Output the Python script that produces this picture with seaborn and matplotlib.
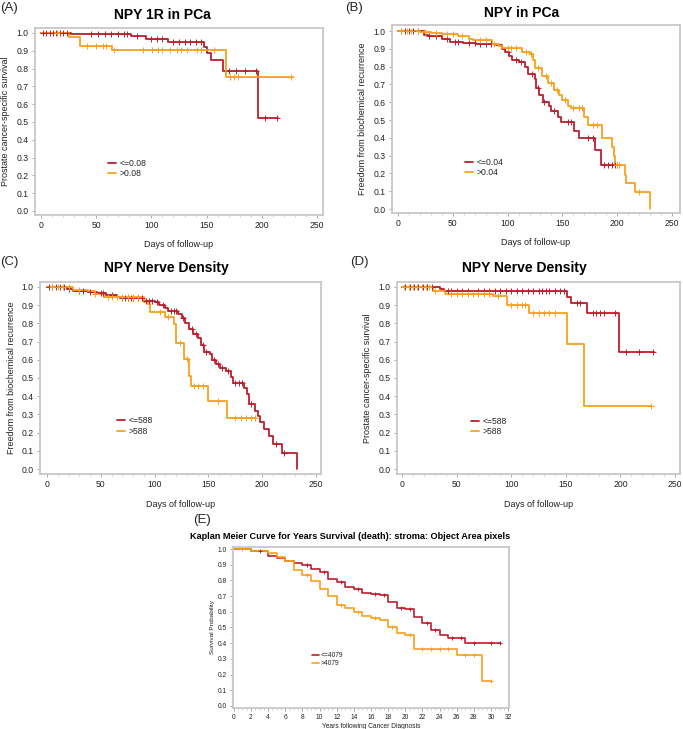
import numpy as np
import matplotlib
matplotlib.use('Agg')
import matplotlib.pyplot as plt
from matplotlib.ticker import MultipleLocator
import seaborn as sns

sns.set_style('white')
plt.rcParams['font.family'] = ['Liberation Sans', 'DejaVu Sans']

RED = '#BE1E2D'
ORANGE = '#F9A11B'

###Data###
# (A) NPY 1R in PCa
a_lo_t = [0, 27, 82, 95, 115, 148, 150, 154, 165, 197, 215]
a_lo_s = [1.0, 0.994, 0.985, 0.966, 0.951, 0.92, 0.887, 0.848, 0.787, 0.524, 0.524]
a_lo_c = [2, 5, 8, 11, 14, 17, 20, 24, 45, 52, 58, 63, 70, 75, 78, 87, 100, 105, 110,
          120, 125, 130, 135, 140, 145, 170, 177, 185, 195, 203, 214]
a_hi_t = [0, 25, 35, 64, 168, 228]
a_hi_s = [1.0, 0.98, 0.927, 0.906, 0.752, 0.752]
a_hi_c = [15, 42, 50, 56, 59, 66, 92, 101, 106, 110, 117, 123, 127, 132, 141, 145,
          157, 171, 175, 178, 226]

# (B) NPY in PCa
b_lo_t = [0, 24, 27, 40, 47, 59, 71, 89, 95, 98, 101, 104, 110, 116, 119, 125, 126,
          129, 132, 138, 140, 146, 149, 161, 165, 180, 185, 201]
b_lo_s = [1.0, 0.98, 0.972, 0.953, 0.94, 0.935, 0.925, 0.92, 0.90, 0.88, 0.86, 0.84,
          0.825, 0.80, 0.76, 0.73, 0.68, 0.64, 0.60, 0.58, 0.55, 0.52, 0.49, 0.44,
          0.40, 0.33, 0.25, 0.25]
b_lo_c = [3, 6, 10, 14, 18, 28, 35, 45, 52, 55, 65, 70, 75, 80, 85, 100, 108, 112, 122,
          128, 133, 142, 155, 158, 173, 178, 188, 192, 195, 198, 200]
b_hi_t = [0, 20, 30, 40, 55, 62, 65, 68, 86, 92, 95, 113, 120, 123, 125, 131, 137, 142,
          147, 150, 155, 158, 170, 173, 186, 195, 197, 198, 207, 208, 216, 230]
b_hi_s = [1.0, 0.995, 0.99, 0.985, 0.975, 0.97, 0.955, 0.95, 0.93, 0.915, 0.905, 0.88,
          0.87, 0.835, 0.79, 0.745, 0.71, 0.67, 0.64, 0.615, 0.58, 0.57, 0.52, 0.475,
          0.40, 0.35, 0.30, 0.25, 0.19, 0.145, 0.095, 0.0]
b_hi_c = [3, 8, 12, 18, 25, 35, 45, 50, 58, 75, 80, 88, 100, 103, 108, 117, 121, 128,
          135, 140, 145, 152, 160, 165, 168, 178, 182, 200, 202, 220]

# (C) NPY Nerve Density - biochemical recurrence
c_lo_t = [0, 19, 24, 38, 46, 55, 65, 68, 90, 100, 104, 110, 112, 122, 125, 128, 132,
          136, 140, 143, 146, 151, 153, 157, 161, 166, 171, 173, 183, 186, 188, 193,
          196, 198, 202, 206, 210, 218, 232]
c_lo_s = [1.0, 0.99, 0.98, 0.97, 0.965, 0.955, 0.945, 0.94, 0.925, 0.915, 0.90, 0.885,
          0.87, 0.85, 0.83, 0.80, 0.77, 0.74, 0.72, 0.68, 0.645, 0.63, 0.60, 0.575,
          0.555, 0.54, 0.505, 0.47, 0.445, 0.41, 0.355, 0.32, 0.29, 0.26, 0.22, 0.18,
          0.135, 0.09, 0.0]
c_lo_c = [2, 5, 8, 12, 16, 20, 30, 33, 40, 50, 52, 60, 70, 72, 75, 78, 80, 85, 88, 92,
          95, 98, 102, 108, 115, 118, 120, 126, 135, 138, 145, 148, 155, 159, 163, 168,
          175, 178, 181, 190, 213, 220]
c_hi_t = [0, 24, 38, 45, 53, 90, 94, 96, 110, 118, 120, 127, 132, 134, 150, 167, 194]
c_hi_s = [1.0, 0.985, 0.975, 0.96, 0.945, 0.915, 0.905, 0.86, 0.835, 0.795, 0.69,
          0.605, 0.51, 0.455, 0.375, 0.28, 0.28]
c_hi_c = [5, 10, 15, 20, 30, 45, 57, 60, 65, 70, 75, 80, 85, 105, 112, 124, 130, 137,
          140, 145, 159, 175, 180, 185, 190, 193]

# (D) NPY Nerve Density - cancer-specific survival
d_lo_t = [0, 35, 38, 65, 151, 155, 169, 199, 231]
d_lo_s = [1.0, 0.99, 0.98, 0.975, 0.945, 0.909, 0.855, 0.64, 0.64]
d_lo_c = [3, 7, 11, 15, 19, 23, 27, 42, 45, 50, 55, 60, 70, 75, 80, 85, 90, 95, 100,
          105, 110, 115, 120, 125, 128, 132, 135, 140, 145, 148, 160, 163, 175, 178,
          181, 185, 195, 205, 217, 230]
d_hi_t = [0, 28, 39, 83, 96, 116, 151, 167, 228]
d_hi_s = [1.0, 0.98, 0.963, 0.95, 0.898, 0.858, 0.686, 0.345, 0.345]
d_hi_c = [2, 6, 10, 14, 18, 22, 25, 30, 45, 50, 55, 60, 65, 70, 75, 80, 88, 100, 105,
          110, 113, 120, 125, 130, 135, 140, 228]

# (E) stroma object area pixels, years
e_lo_t = [0, 2, 4, 5, 6, 7, 8, 9, 10, 11, 12, 13, 14, 15, 16, 17, 18, 19, 20, 21, 22,
          23, 24, 25, 27, 31]
e_lo_s = [1.0, 0.985, 0.955, 0.94, 0.925, 0.91, 0.898, 0.875, 0.855, 0.81, 0.79, 0.76,
          0.745, 0.72, 0.715, 0.705, 0.66, 0.625, 0.615, 0.564, 0.53, 0.487, 0.455,
          0.435, 0.398, 0.398]
e_lo_c = [3, 8.5, 10.5, 12.5, 14.5, 16.5, 17.5, 19.5, 20.5, 22.5, 23.5, 25.5, 26.5,
          28, 30, 31]
e_hi_t = [0, 2, 4, 5, 6, 7, 8, 9, 10, 11, 12, 13, 14, 15, 16, 17, 18, 19, 20, 21, 26,
          29, 30]
e_hi_s = [1.0, 0.99, 0.975, 0.95, 0.925, 0.866, 0.835, 0.795, 0.743, 0.698, 0.642,
          0.625, 0.60, 0.575, 0.56, 0.545, 0.50, 0.468, 0.45, 0.366, 0.323, 0.16, 0.16]
e_hi_c = [1, 5.5, 8.5, 12.5, 14.5, 16.5, 18.5, 20.5, 22, 23, 24, 25, 27, 28, 30]


def cens_y(times, surv, cens):
    idx = np.searchsorted(times, cens, side='right') - 1
    return np.asarray(surv)[idx]


def km_panel(ax, groups, ylabel, xlabel, small=False):
    fs = 4.8 if small else 6.2
    for t, s, c, lab, col in groups:
        sns.lineplot(x=t, y=s, drawstyle='steps-post', estimator=None, sort=False,
                     color=col, lw=1.3 if not small else 1.2, label=lab, ax=ax)
        sns.scatterplot(x=c, y=cens_y(t, s, c), marker='+', s=12 if small else 14,
                        color=col, linewidth=0.7, ax=ax, legend=False, zorder=3)
    for sp in ax.spines.values():
        sp.set_color('#C8C8C8')
        sp.set_linewidth(1.3)
    ax.set_ylabel(ylabel, fontsize=4.6 if small else 6.5, color='#222222')
    ax.set_xlabel(xlabel, fontsize=4.8 if small else 6.5, color='#222222')
    ax.yaxis.set_major_locator(MultipleLocator(0.1))
    ax.tick_params(axis='both', which='major', labelsize=fs, length=2.5, width=0.6,
                   color='#999999', labelcolor='#222222', pad=2, direction='out',
                   bottom=True, left=True)
    ax.tick_params(axis='both', which='minor', length=1.5, width=0.5, color='#BBBBBB',
                   bottom=True, left=True)
    ax.yaxis.set_major_formatter(plt.FuncFormatter(lambda v, p: f'{v:.1f}'))


fig = plt.figure(figsize=(6.83, 7.29), dpi=100)

axA = fig.add_axes([0.0512, 0.7051, 0.4217, 0.2565])
km_panel(axA, [(a_lo_t, a_lo_s, a_lo_c, '<=0.08', RED),
               (a_hi_t, a_hi_s, a_hi_c, '>0.08', ORANGE)],
         'Prostate cancer-specific survival', 'Days of follow-up')
axA.set_xlim(-5.4, 255.4)
axA.set_ylim(-0.0225, 1.028)

axB = fig.add_axes([0.5739, 0.7078, 0.4217, 0.2579])
km_panel(axB, [(b_lo_t, b_lo_s, b_lo_c, '<=0.04', RED),
               (b_hi_t, b_hi_s, b_hi_c, '>0.04', ORANGE)],
         'Freedom from biochemical recurrence', 'Days of follow-up')
axB.set_xlim(-5.5, 257.3)
axB.set_ylim(-0.022, 1.034)

axC = fig.add_axes([0.0586, 0.3498, 0.4114, 0.2634])
km_panel(axC, [(c_lo_t, c_lo_s, c_lo_c, '<=588', RED),
               (c_hi_t, c_hi_s, c_hi_c, '>588', ORANGE)],
         'Freedom from biochemical recurrence', 'Days of follow-up')
axC.set_xlim(-6.5, 254.6)
axC.set_ylim(-0.027, 1.027)

axD = fig.add_axes([0.5813, 0.3498, 0.4143, 0.2634])
km_panel(axD, [(d_lo_t, d_lo_s, d_lo_c, '<=588', RED),
               (d_hi_t, d_hi_s, d_hi_c, '>588', ORANGE)],
         'Prostate cancer-specific survival', 'Days of follow-up')
axD.set_xlim(-4.6, 254.6)
axD.set_ylim(-0.027, 1.027)

axE = fig.add_axes([0.3411, 0.0288, 0.4041, 0.2209])
km_panel(axE, [(e_lo_t, e_lo_s, e_lo_c, '<=4079', RED),
               (e_hi_t, e_hi_s, e_hi_c, '>4079', ORANGE)],
         'Survival Probability', 'Years following Cancer Diagnosis', small=True)
axE.set_xlim(-0.1, 32.1)
axE.set_ylim(-0.013, 1.013)

# ticks, legends, titles, label positions per panel
panels = [
    (axA, 'NPY 1R in PCa', 0.444, 1.07, 0.253, 0.25, -0.087, -0.134, 10),
    (axB, 'NPY in PCa', 0.451, 1.064, 0.253, 0.242, -0.087, -0.134, 10),
    (axC, 'NPY Nerve Density', 0.45, 1.073, 0.273, 0.25, -0.085, -0.135, 10),
    (axD, 'NPY Nerve Density', 0.45, 1.073, 0.26, 0.247, -0.088, -0.135, 10),
    (axE, 'Kaplan Meier Curve for Years Survival (death): stroma: Object Area pixels',
     0.424, 1.062, 0.286, 0.30, -0.065, -0.093, 6.6),
]
for ax, title, tx, ty, lx, ly, ylx, xly, tfs in panels:
    small = ax is axE
    if small:
        ax.xaxis.set_major_locator(MultipleLocator(2))
        ax.xaxis.set_minor_locator(MultipleLocator(0.5))
        ax.yaxis.set_minor_locator(MultipleLocator(0.025))
    else:
        ax.xaxis.set_major_locator(MultipleLocator(50))
        ax.xaxis.set_minor_locator(MultipleLocator(10))
    ax.text(tx, ty, title, transform=ax.transAxes, ha='center', va='center',
            fontsize=tfs, fontweight='bold', color='black')
    ax.legend(loc='center left', bbox_to_anchor=(lx, ly), frameon=False,
              fontsize=4.8 if small else 6.2, handlelength=1.0, handletextpad=0.35,
              labelspacing=0.15, borderpad=0, borderaxespad=0)
    ax.yaxis.set_label_coords(ylx, 0.5)
    ax.xaxis.set_label_coords(0.5, xly)

# panel letters
fig.text(0.0, 1 - 8 / 729, '(A)', fontsize=9.5, va='center', ha='left')
fig.text(345 / 683, 1 - 8 / 729, '(B)', fontsize=9.5, va='center', ha='left')
fig.text(0.0, 1 - 262 / 729, '(C)', fontsize=9.5, va='center', ha='left')
fig.text(350 / 683, 1 - 262 / 729, '(D)', fontsize=9.5, va='center', ha='left')
fig.text(193 / 683, 1 - 520 / 729, '(E)', fontsize=9.5, va='center', ha='left')

plt.savefig('out.png', dpi=100)
